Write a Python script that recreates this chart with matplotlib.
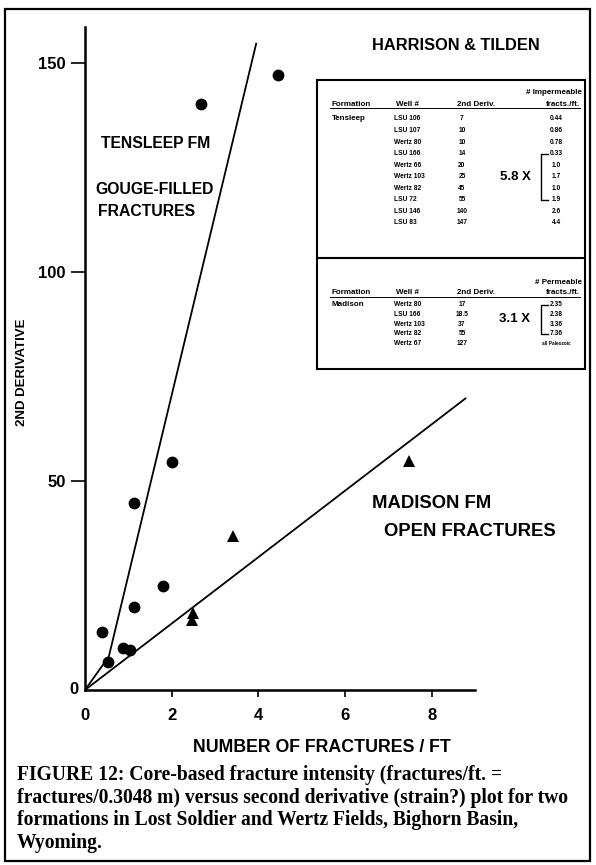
import matplotlib
matplotlib.use("Agg")
import matplotlib.pyplot as plt
from matplotlib.patches import Rectangle

# ---------------- data ----------------
tensleep_x = [0.54, 0.87, 1.04, 0.385, 1.13, 1.81, 1.12, 2.0, 2.67, 4.45]
tensleep_y = [6.8, 10.0, 9.6, 13.9, 19.9, 24.9, 44.6, 54.5, 140.0, 147.0]
madison_x = [2.47, 2.50, 3.41, 7.47]
madison_y = [16.7, 18.3, 36.9, 54.8]

tensleep_line_x = [0.0, 0.55, 3.95]
tensleep_line_y = [0.0, 8.0, 154.5]
madison_line_x = [0.0, 8.78]
madison_line_y = [0.0, 69.7]

x_ticks = [0, 2, 4, 6, 8]
y_ticks = [0, 50, 100, 150]

tensleep_wells = ["LSU 106", "LSU 107", "Wertz 80", "LSU 166", "Wertz 66",
                  "Wertz 103", "Wertz 82", "LSU 72", "LSU 146", "LSU 83"]
tensleep_deriv = ["7", "10", "10", "14", "20", "25", "45", "55", "140", "147"]
tensleep_fracts = ["0.44", "0.86", "0.78", "0.33", "1.0", "1.7", "1.0", "1.9", "2.6", "4.4"]

madison_wells = ["Wertz 80", "LSU 166", "Wertz 103", "Wertz 82", "Wertz 67"]
madison_deriv = ["17", "18.5", "37", "55", "127"]
madison_fracts = ["2.35", "2.38", "3.36", "7.36", "all Paleozoic"]

caption_lines = [
    "FIGURE 12: Core-based fracture intensity (fractures/ft. =",
    "fractures/0.3048 m) versus second derivative (strain?) plot for two",
    "formations in Lost Soldier and Wertz Fields, Bighorn Basin,",
    "Wyoming.",
]

SANS = "Liberation Sans"
SERIF = "Liberation Serif"
W, H = 596, 865

fig = plt.figure(figsize=(W / 100, H / 100), dpi=100)
fig.patch.set_facecolor("white")

# ---------------- main plot ----------------
ax = fig.add_axes([85 / W, (H - 690) / H, 390 / W, 663 / H])
ax.set_xlim(0, 9.0)
ax.set_ylim(0, 158.5)
for s in ("top", "right"):
    ax.spines[s].set_visible(False)
for s in ("left", "bottom"):
    ax.spines[s].set_linewidth(1.8)

ax.plot(tensleep_line_x, tensleep_line_y, color="black", lw=1.3)
ax.plot(madison_line_x, madison_line_y, color="black", lw=1.3)
ax.plot(tensleep_x, tensleep_y, "o", color="black", ms=8.5, mew=0)
ax.plot(madison_x, madison_y, "^", color="black", ms=8.5, mew=0)

ax.set_xticks(x_ticks)
ax.set_yticks(y_ticks)
ax.set_xticklabels([str(v) for v in x_ticks], fontfamily=SANS, fontweight="bold", fontsize=12)
ax.set_yticklabels([str(v) for v in y_ticks], fontfamily=SANS, fontweight="bold", fontsize=12)
ax.tick_params(axis="y", direction="out", length=10, width=1.2, pad=4)
ax.tick_params(axis="x", direction="out", length=5, width=1.2, pad=8)
# zero ticks: no tick mark, zero y-label sits close to the axis
ax.xaxis.get_major_ticks()[0].tick1line.set_visible(False)
yt0 = ax.yaxis.get_major_ticks()[0]
yt0.tick1line.set_visible(False)
yt0.label1.set_visible(False)
ax.text(-0.15, y_ticks[0], str(y_ticks[0]), ha="right", va="center",
        fontfamily=SANS, fontweight="bold", fontsize=12)

# ---------------- overlay in pixel coordinates ----------------
ov = fig.add_axes([0, 0, 1, 1], zorder=5)
ov.set_xlim(0, W)
ov.set_ylim(H, 0)
ov.axis("off")
ov.patch.set_alpha(0)

# figure border
ov.add_patch(Rectangle((5, 9), 585, 852, fill=False, lw=1.6, ec="black"))

ov.text(22, 372, "2ND DERIVATIVE", rotation=90, ha="center", va="center",
        fontfamily=SANS, fontweight="bold", fontsize=9.5)
ov.text(322, 748, "NUMBER OF FRACTURES / FT", ha="center", va="center",
        fontfamily=SANS, fontweight="bold", fontsize=12.8)

ov.text(372, 46, "HARRISON & TILDEN", fontsize=11.8, fontfamily=SANS,
        fontweight="bold", va="center")
big = dict(fontfamily=SANS, fontweight="bold", fontsize=11.3, va="center")
ov.text(101, 143, "TENSLEEP FM", **big)
ov.text(95, 189, "GOUGE-FILLED", **big)
ov.text(98, 211, "FRACTURES", **big)
mad = dict(fontfamily=SANS, fontweight="bold", fontsize=13.3, va="center")
ov.text(372, 504, "MADISON FM", **mad)
ov.text(384, 532, "OPEN FRACTURES", **mad)

# ---------------- table ----------------
tx0, tx1, ty0, ty1, tdiv = 317, 585, 80, 369, 258
ov.add_patch(Rectangle((tx0, ty0), tx1 - tx0, ty1 - ty0, fill=False, lw=1.5, ec="black"))
ov.plot([tx0, tx1], [tdiv, tdiv], color="black", lw=1.5)

hdr = dict(fontfamily=SANS, fontweight="bold", fontsize=5.8, va="center")
small = dict(fontfamily=SANS, fontweight="bold", fontsize=4.8, va="center")
X_FORM, X_WELL, X_DER, X_FR = 332, 394, 462, 556


def table_block(y_title, y_head, y_rows, title, form, wells, derivs, fracts,
                mult, br_i0, br_i1):
    ov.text(582, y_title, title, ha="right", **hdr)
    ov.text(X_FORM, y_head, "Formation", **hdr)
    ov.text(X_WELL + 2, y_head, "Well #", **hdr)
    ov.text(X_DER - 5, y_head, "2nd Deriv.", **hdr)
    ov.text(580, y_head, "fracts./ft.", ha="right", **hdr)
    ov.plot([330, 580], [y_head + 4, y_head + 4], color="black", lw=0.7)
    ov.text(X_FORM, y_rows[0], form, **hdr)
    for yy, w, d, f in zip(y_rows, wells, derivs, fracts):
        ov.text(X_WELL, yy, w, **small)
        ov.text(X_DER, yy, d, ha="center", **small)
        if f.startswith("all"):
            ov.text(X_FR, yy, f, ha="center", fontfamily=SANS, fontweight="bold",
                    fontsize=3.4, va="center")
        else:
            ov.text(X_FR, yy, f, ha="center", **small)
    yb0, yb1 = y_rows[br_i0], y_rows[br_i1]
    ov.plot([548, 541, 541, 548], [yb0, yb0, yb1, yb1], color="black", lw=1.0)
    ov.text(515, (yb0 + yb1) / 2, mult, ha="center", va="center",
            fontfamily=SANS, fontweight="bold", fontsize=9.5)


rows_top = [119 + 11.55 * i for i in range(len(tensleep_wells))]
table_block(93, 104, rows_top, "# Impermeable", "Tensleep", tensleep_wells,
            tensleep_deriv, tensleep_fracts, "5.8 X", 3, 7)

rows_bot = [305 + 9.6 * i for i in range(len(madison_wells))]
table_block(282, 293, rows_bot, "# Permeable", "Madison", madison_wells,
            madison_deriv, madison_fracts, "3.1 X", 0, 3)

# ---------------- caption ----------------
for i, line in enumerate(caption_lines):
    ov.text(17, 775 + 22.7 * i, line, ha="left", va="center",
            fontfamily=SERIF, fontweight="bold", fontsize=14.1)

fig.savefig("out.png", dpi=100, facecolor="white")
